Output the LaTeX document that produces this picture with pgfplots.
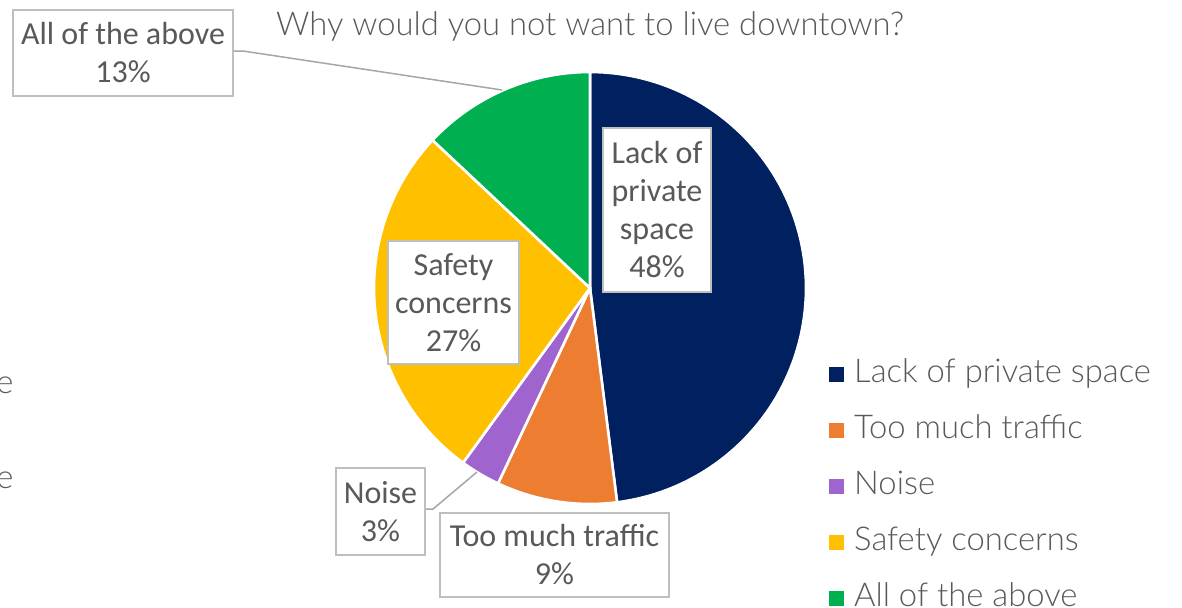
\documentclass[border=0pt]{standalone}
\usepackage{pgfplots}
\pgfplotsset{compat=1.18}
\usepackage{pgfplotstable}
\usepackage{fontspec}
\setmainfont{Carlito}
\newfontfamily\lightfont{Lato}[UprightFont=* Light]
\definecolor{cNavy}{HTML}{002060}
\definecolor{cOrange}{HTML}{ED7D31}
\definecolor{cPurple}{HTML}{A064CF}
\definecolor{cYellow}{HTML}{FFC000}
\definecolor{cGreen}{HTML}{00B050}
\definecolor{textgray}{HTML}{595959}
\definecolor{boxgray}{HTML}{BFBFBF}
\definecolor{leadgray}{HTML}{A6A6A6}
\tikzset{lbl/.style={draw=boxgray, line width=0.75pt, fill=white, align=center, inner sep=0pt,
    font=\fontsize{16}{19}\selectfont, text=textgray}}

\pgfplotstableread[col sep=comma]{
cat,share
Lack of private space,48
Too much traffic,9
Noise,3
Safety concerns,27
All of the above,13
}\piedata

\begin{document}
\begin{tikzpicture}
\pgfplotstablegetelem{0}{share}\of\piedata \let\sA\pgfplotsretval
\pgfplotstablegetelem{1}{share}\of\piedata \let\sB\pgfplotsretval
\pgfplotstablegetelem{2}{share}\of\piedata \let\sC\pgfplotsretval
\pgfplotstablegetelem{3}{share}\of\piedata \let\sD\pgfplotsretval
\pgfplotstablegetelem{4}{share}\of\piedata \let\sE\pgfplotsretval
\pgfmathsetmacro\aO{90}
\pgfmathsetmacro\aA{\aO-3.6*\sA}
\pgfmathsetmacro\aB{\aA-3.6*\sB}
\pgfmathsetmacro\aC{\aB-3.6*\sC}
\pgfmathsetmacro\aD{\aC-3.6*\sD}
\pgfmathsetmacro\aE{\aD-3.6*\sE}
\def\cx{590}\def\cy{319}\def\R{216}
\begin{axis}[
  width=591pt, height=303.5pt, scale only axis,
  xmin=0, xmax=1182, ymin=0, ymax=607,
  hide axis, clip=false,
  legend style={draw=none, fill=none, at={(axis cs:829,247)}, anchor=north west,
    font=\lightfont\fontsize{16.4}{19}\selectfont, text=textgray,
    inner sep=0pt, row sep=13.95pt, column sep=5pt,
    nodes={inner sep=0pt, text height=11pt, text depth=3pt}},
  legend cell align=left,
  pie/.style={draw=white, line width=1.3pt, samples=100, variable=\t, forget plot},
]
\addplot[pie, fill=cNavy, domain=\aA:\aO] ({\cx+\R*cos(\t)},{\cy+\R*sin(\t)}) -- (axis cs:\cx,\cy) -- cycle;
\addplot[pie, fill=cOrange, domain=\aB:\aA] ({\cx+\R*cos(\t)},{\cy+\R*sin(\t)}) -- (axis cs:\cx,\cy) -- cycle;
\addplot[pie, fill=cPurple, domain=\aC:\aB] ({\cx+\R*cos(\t)},{\cy+\R*sin(\t)}) -- (axis cs:\cx,\cy) -- cycle;
\addplot[pie, fill=cYellow, domain=\aD:\aC] ({\cx+\R*cos(\t)},{\cy+\R*sin(\t)}) -- (axis cs:\cx,\cy) -- cycle;
\addplot[pie, fill=cGreen, domain=\aE:\aD] ({\cx+\R*cos(\t)},{\cy+\R*sin(\t)}) -- (axis cs:\cx,\cy) -- cycle;

\addlegendimage{legend image code/.code={\fill[cNavy] (0pt,-3.5pt) rectangle (7pt,3.5pt);}}
\addlegendentry{Lack of private space}
\addlegendimage{legend image code/.code={\fill[cOrange] (0pt,-3.5pt) rectangle (7pt,3.5pt);}}
\addlegendentry{Too much traffic}
\addlegendimage{legend image code/.code={\fill[cPurple] (0pt,-3.5pt) rectangle (7pt,3.5pt);}}
\addlegendentry{Noise}
\addlegendimage{legend image code/.code={\fill[cYellow] (0pt,-3.5pt) rectangle (7pt,3.5pt);}}
\addlegendentry{Safety concerns}
\addlegendimage{legend image code/.code={\fill[cGreen] (0pt,-3.5pt) rectangle (7pt,3.5pt);}}
\addlegendentry{All of the above}

% leader lines
\draw[leadgray, line width=0.75pt] (axis cs:233,556) -- (axis cs:243,556) -- (axis cs:502,517);
\draw[leadgray, line width=0.75pt] (axis cs:425,98) -- (axis cs:433,98) -- (axis cs:477,135);

% labels
\node[lbl, minimum width=54pt, minimum height=82pt] at (axis cs:657,397) {Lack of\\private\\space\\48\%};
\node[lbl, minimum width=65.5pt, minimum height=61.5pt] at (axis cs:453.5,304.5) {Safety\\concerns\\27\%};
\node[lbl, minimum width=44.5pt, minimum height=43.5pt] at (axis cs:380.5,95.5) {Noise\\3\%};
\node[lbl, minimum width=114.5pt, minimum height=42pt] at (axis cs:554.5,52) {Too much traffic\\9\%};
\node[lbl, minimum width=110pt, minimum height=43pt] at (axis cs:123,554) {All of the above\\13\%};

% title
\node[anchor=base, font=\lightfont\fontsize{16.4}{19}\selectfont, text=textgray, inner sep=0pt]
  at (axis cs:590,572) {Why would you not want to live downtown?};
% clipped fragments at left edge
\node[anchor=base east, font=\lightfont\fontsize{16.4}{19}\selectfont, text=textgray, inner sep=0pt]
  at (axis cs:14,214) {e};
\node[anchor=base east, font=\lightfont\fontsize{16.4}{19}\selectfont, text=textgray, inner sep=0pt]
  at (axis cs:14,119) {e};
\end{axis}
\pgfresetboundingbox
\path (current axis.south west) rectangle (current axis.north east);
\end{tikzpicture}
\end{document}
